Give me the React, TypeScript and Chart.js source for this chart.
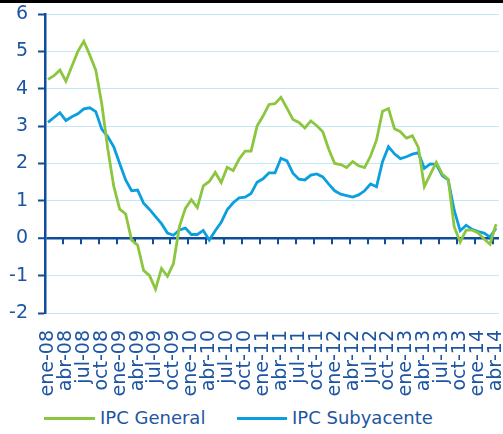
import { useEffect, useRef } from 'react';
import { Chart, registerables } from 'chart.js';

Chart.register(...registerables);

const monthNames = ['ene', 'feb', 'mar', 'abr', 'may', 'jun', 'jul', 'ago', 'sep', 'oct', 'nov', 'dic'];
const years = ['08', '09', '10', '11', '12', '13', '14'];
const categories: string[] = [];
years.forEach((yy) => monthNames.forEach((m) => categories.push(`${m}-${yy}`)));
categories.splice(76);

const ipcGeneral = [
  4.25, 4.35, 4.5, 4.2, 4.6, 5.0, 5.27, 4.9, 4.5, 3.6, 2.4, 1.4,
  0.78, 0.65, -0.05, -0.18, -0.86, -1.0, -1.36, -0.81, -1.02, -0.68, 0.31, 0.8,
  1.03, 0.82, 1.4, 1.52, 1.76, 1.49, 1.9, 1.81, 2.12, 2.33, 2.33, 3.0,
  3.27, 3.58, 3.6, 3.77, 3.48, 3.18, 3.1, 2.95, 3.14, 3.01, 2.85, 2.38,
  2.0, 1.97, 1.89, 2.05, 1.94, 1.89, 2.2, 2.63, 3.4, 3.47, 2.93, 2.85,
  2.68, 2.74, 2.43, 1.38, 1.71, 2.03, 1.72, 1.58, 0.31, -0.1, 0.22, 0.22,
  0.14, -0.02, -0.16, 0.38,
];

const ipcSubyacente = [
  3.1, 3.23, 3.36, 3.15, 3.25, 3.33, 3.46, 3.49, 3.39, 2.92, 2.72, 2.45,
  2.0, 1.56, 1.27, 1.29, 0.94, 0.77, 0.58, 0.39, 0.14, 0.08, 0.22, 0.27,
  0.1, 0.1, 0.21, -0.05, 0.2, 0.43, 0.76, 0.95, 1.08, 1.1, 1.2, 1.5,
  1.59, 1.75, 1.75, 2.14, 2.07, 1.74, 1.58, 1.56, 1.69, 1.72, 1.64, 1.45,
  1.27, 1.18, 1.14, 1.1, 1.16, 1.27, 1.45, 1.38, 2.05, 2.45, 2.26, 2.13,
  2.18, 2.25, 2.29, 1.87, 1.99, 1.98, 1.68, 1.56, 0.75, 0.2, 0.35, 0.24,
  0.18, 0.14, 0.03, 0.27,
];

const seriesNames = ['IPC General', 'IPC Subyacente'];

const GREEN = '#8cc63f';
const BLUE = '#0c9fdf';
const AXIS = '#0f4c9c';
const TEXT = '#1d55a3';
const GRID = '#c2e7f7';
const FONT = "'DejaVu Sans', sans-serif";

const zeroTicks = {
  id: 'zeroTicks',
  beforeDatasetsDraw(chart: any) {
    const { ctx, scales } = chart;
    const x = scales.x;
    const y = scales.y;
    const y0 = y.getPixelForValue(0);
    const half = (x.getPixelForValue(1) - x.getPixelForValue(0)) / 2;
    ctx.save();
    ctx.strokeStyle = AXIS;
    ctx.lineWidth = 2;
    ctx.beginPath();
    for (let k = 3; k < categories.length; k += 3) {
      const px = Math.round(x.getPixelForValue(k) - half);
      ctx.moveTo(px, y0);
      ctx.lineTo(px, y0 + 6);
    }
    ctx.stroke();
    ctx.restore();
  },
};

export default function App() {
  const ref = useRef<HTMLCanvasElement>(null);

  useEffect(() => {
    if (!ref.current) return;
    const chart = new Chart(ref.current, {
      type: 'line',
      data: {
        labels: categories,
        datasets: [
          {
            label: seriesNames[0],
            data: ipcGeneral,
            borderColor: GREEN,
            backgroundColor: GREEN,
            borderWidth: 2.8,
            pointRadius: 0,
            tension: 0,
          },
          {
            label: seriesNames[1],
            data: ipcSubyacente,
            borderColor: BLUE,
            backgroundColor: BLUE,
            borderWidth: 2.8,
            pointRadius: 0,
            tension: 0,
          },
        ],
      },
      options: {
        animation: false,
        responsive: false,
        devicePixelRatio: 1,
        layout: { padding: { top: 14, right: 4, left: 0, bottom: 0 } },
        plugins: { legend: { display: false }, tooltip: { enabled: false } },
        scales: {
          x: {
            type: 'category',
            offset: true,
            grid: { display: false },
            border: { display: false },
            ticks: {
              autoSkip: false,
              minRotation: 90,
              maxRotation: 90,
              padding: 9,
              color: TEXT,
              font: { family: FONT, size: 19 },
              callback: (_v: any, i: number) => (i % 3 === 0 ? categories[i] : ''),
            },
            afterFit: (s: any) => {
              s.height = 87;
              s.paddingLeft = 0;
              s.paddingRight = 0;
            },
          },
          y: {
            min: -2,
            max: 6,
            grid: {
              color: (c: any) => (c.tick && c.tick.value === 0 ? AXIS : GRID),
              lineWidth: (c: any) => (c.tick && c.tick.value === 0 ? 2.5 : 1),
              tickColor: AXIS,
              tickLength: 7,
              tickWidth: 2,
            },
            border: { display: true, color: AXIS, width: 2.5 },
            ticks: {
              stepSize: 1,
              padding: 10,
              color: TEXT,
              font: { family: FONT, size: 19 },
            },
            afterFit: (s: any) => {
              s.width = 45;
              s.paddingTop = 0;
              s.paddingBottom = 0;
            },
          },
        },
      },
      plugins: [zeroTicks],
    });
    return () => chart.destroy();
  }, []);

  const legendText: React.CSSProperties = {
    position: 'absolute',
    top: 409,
    fontFamily: FONT,
    fontSize: 18,
    lineHeight: '18px',
    color: TEXT,
    whiteSpace: 'nowrap',
  };

  return (
    <div style={{ position: 'absolute', left: 0, top: 0, width: 503, height: 434, background: '#fff', overflow: 'hidden' }}>
      <canvas ref={ref} width={503} height={400} style={{ position: 'absolute', left: 0, top: 0 }} />
      <div style={{ position: 'absolute', left: 0, top: 0, width: 503, height: 3, background: '#000' }} />
      <div style={{ position: 'absolute', left: 44, top: 417, width: 51, height: 3, background: GREEN }} />
      <div style={{ ...legendText, left: 100 }}>{seriesNames[0]}</div>
      <div style={{ position: 'absolute', left: 237, top: 417, width: 50, height: 3, background: BLUE }} />
      <div style={{ ...legendText, left: 292 }}>{seriesNames[1]}</div>
    </div>
  );
}
